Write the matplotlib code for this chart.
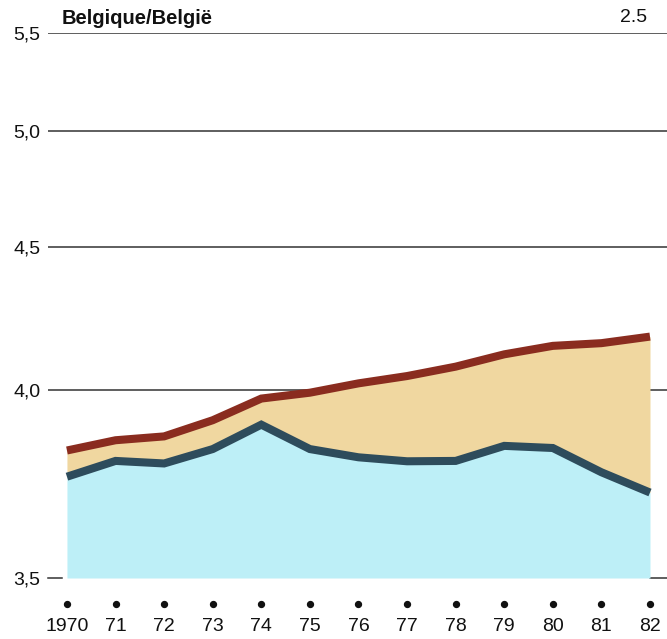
"""
Belgique/België 1970-82: gestapelte Flächen mit Randlinien (Nachbau).
"""

import matplotlib
matplotlib.use("Agg")
import matplotlib.pyplot as plt
import numpy as np

plt.rcParams["font.family"] = ["Liberation Sans", "DejaVu Sans"]

# ── Daten ──────────────────────────────────────────────
years = [1970, 1971, 1972, 1973, 1974, 1975, 1976,
         1977, 1978, 1979, 1980, 1981, 1982]
year_labels = ["1970", "71", "72", "73", "74", "75", "76",
               "77", "78", "79", "80", "81", "82"]
total = [3.823, 3.852, 3.863, 3.910, 3.975, 3.993, 4.022,
         4.045, 4.075, 4.115, 4.143, 4.152, 4.174]
lower = [3.751, 3.794, 3.787, 3.827, 3.897, 3.827, 3.804,
         3.793, 3.794, 3.836, 3.830, 3.763, 3.709]
y_ticks = [3.5, 4.0, 4.5, 5.0, 5.5]
y_labels = ["3,5", "4,0", "4,5", "5,0", "5,5"]

# Farben
HELLBLAU = "#bdeff7"
BEIGE = "#f0d7a0"
ROT = "#8a2c1f"
DUNKELBLAU = "#2e4c5c"

OFFSET = 2.1  # Achse ist log(y - 2.1)


def fwd(v):
    return np.log(np.clip(np.asarray(v, dtype=float) - OFFSET, 1e-6, None))


def inv(u):
    return np.exp(u) + OFFSET


fig = plt.figure(figsize=(6.67, 6.39), dpi=100)
ax = fig.add_axes([48 / 667, 61 / 639, 619 / 667, 545 / 639])
ax.set_yscale("function", functions=(fwd, inv))
ax.set_xlim(1969.61, 1982.35)
ax.set_ylim(3.5, 5.5)

for s in ax.spines.values():
    s.set_visible(False)

# Gitterlinien
for v in y_ticks[1:]:
    ax.axhline(v, color="#333333", linewidth=1.1, zorder=1)
yt = ax.get_yaxis_transform()
ax.plot([0, 0.023], [3.5, 3.5], color="#333333", lw=1.1, transform=yt, clip_on=False)
ax.plot([0.9725, 1.0], [3.5, 3.5], color="#333333", lw=1.1, transform=yt, clip_on=False)

# Flächen
ax.fill_between(years, 3.5, lower, color=HELLBLAU, linewidth=0, zorder=2)
ax.fill_between(years, lower, total, color=BEIGE, linewidth=0, zorder=2)
ax.plot(years, lower, color=DUNKELBLAU, linewidth=5.8, solid_capstyle="butt",
        solid_joinstyle="miter", zorder=3)
ax.plot(years, total, color=ROT, linewidth=5.8, solid_capstyle="butt",
        solid_joinstyle="miter", zorder=3)

# Achsen
ax.set_yticks(y_ticks)
ax.set_yticklabels(y_labels, fontsize=14)
ax.set_xticks(years)
ax.set_xticklabels(year_labels, fontsize=14)
ax.tick_params(axis="y", length=0, pad=5.5, colors="#111111")
ax.tick_params(axis="x", length=0, pad=29, colors="#111111")
ax.minorticks_off()

xt = ax.get_xaxis_transform()
ax.scatter(years, [-0.048] * len(years), s=18, color="#111111",
           transform=xt, clip_on=False, zorder=4)

# Titel
fig.text(62 / 667, 1 - 18 / 639, "Belgique/België", fontsize=14.5,
         fontweight="bold", va="center", ha="left", color="#111111")
fig.text(647 / 667, 1 - 17 / 639, "2.5", fontsize=14,
         va="center", ha="right", color="#111111")

fig.savefig("out.png", dpi=100)
